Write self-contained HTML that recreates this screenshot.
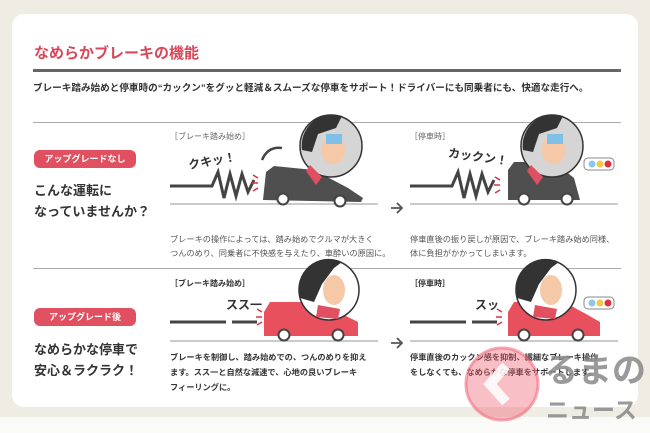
<!DOCTYPE html>
<html><head><meta charset="utf-8"><style>
body{margin:0;width:650px;height:433px;background:#efece4;position:relative;overflow:hidden;font-family:"Liberation Sans","Noto Sans CJK JP",sans-serif;color:#333}
.card{position:absolute;left:12px;top:14px;width:626px;height:393px;background:#fff;border-radius:12px}
.t{position:absolute;white-space:nowrap}
.badge{position:absolute;background:#e05060;color:#fff;font-weight:bold;font-size:9px;border-radius:6px;text-align:center}
.bottom{position:absolute;left:0;top:417px;width:650px;height:16px;background:#fafaf8}
</style></head><body>
<div class="card"></div>
<div class="bottom"></div>
<div class="t" style="left:34px;top:42px;font-size:15px;font-weight:bold;color:#d9485a">なめらかブレーキの機能</div>
<div style="position:absolute;left:33px;top:69px;width:588px;height:3px;background:#666"></div>
<div class="t" style="left:33px;top:80px;font-size:9.6px;font-weight:bold;color:#333">ブレーキ踏み始めと停車時の“カックン”をグッと軽減＆スムーズな停車をサポート！ドライバーにも同乗者にも、快適な走行へ。</div>
<div style="position:absolute;left:33px;top:122px;width:588px;height:1px;background:#aaa"></div>
<div style="position:absolute;left:33px;top:268px;width:588px;height:1px;background:#aaa"></div>

<div class="badge" style="left:34px;top:150px;width:102px;height:18px;line-height:18px">アップグレードなし</div>
<div class="t" style="left:34px;top:180px;font-size:13px;font-weight:bold;line-height:21px">こんな運転に<br>なっていませんか？</div>
<div class="badge" style="left:34px;top:308px;width:102px;height:18px;line-height:18px">アップグレード後</div>
<div class="t" style="left:34px;top:339px;font-size:13px;font-weight:bold;line-height:21px">なめらかな停車で<br>安心＆ラクラク！</div>

<div class="t" style="left:170px;top:131px;font-size:8px;color:#666">［ブレーキ踏み始め］</div>
<div class="t" style="left:410px;top:131px;font-size:8px;color:#666">［停車時］</div>
<div class="t" style="left:170px;top:278px;font-size:8px;color:#333;font-weight:bold">［ブレーキ踏み始め］</div>
<div class="t" style="left:410px;top:278px;font-size:8px;color:#333;font-weight:bold">［停車時］</div>

<div class="t" style="left:188px;top:152px;font-size:12px;font-weight:bold;transform:rotate(-10deg)">クキッ！</div>
<div class="t" style="left:448px;top:148px;font-size:12px;font-weight:bold;transform:rotate(8deg)">カックン！</div>
<div class="t" style="left:226px;top:296px;font-size:12px;font-weight:bold">スス一</div>
<div class="t" style="left:475px;top:296px;font-size:12px;font-weight:bold">スッ</div>

<div class="t" style="left:170px;top:233px;font-size:8.2px;color:#555;line-height:14px">ブレーキの操作によっては、踏み始めでクルマが大きく<br>つんのめり、同乗者に不快感を与えたり、車酔いの原因に。</div>
<div class="t" style="left:410px;top:233px;font-size:8.2px;color:#555;line-height:14px">停車直後の振り戻しが原因で、ブレーキ踏み始め同様、<br>体に負担がかかってしまいます。</div>
<div class="t" style="left:170px;top:350px;font-size:8.2px;color:#333;font-weight:bold;line-height:15px">ブレーキを制御し、踏み始めでの、つんのめりを抑え<br>ます。スス一と自然な減速で、心地の良いブレーキ<br>フィーリングに。</div>
<div class="t" style="left:410px;top:350px;font-size:8.2px;color:#333;font-weight:bold;line-height:15px">停車直後のカックン感を抑制、繊細なブレーキ操作<br>をしなくても、なめらかな停車をサポートします。</div>

<svg width="650" height="433" style="position:absolute;left:0;top:0">
<g stroke="#aaa" stroke-width="1.2"><line x1="170" y1="204" x2="378" y2="204"/><line x1="410" y1="204" x2="618" y2="204"/><line x1="170" y1="341" x2="378" y2="341"/><line x1="410" y1="341" x2="618" y2="341"/></g>
<g stroke="#555" stroke-width="1.8" fill="none"><path d="M391 208h11M397 203l5 5-5 5"/><path d="M391 343h11M397 338l5 5-5 5"/></g>
<g stroke="#444" stroke-width="3" fill="none">
<path d="M170 186h42l6-14 6 26 6-24 6 22 6-22 6 18 6-12"/>
<path d="M410 186h42l6-14 6 26 6-24 6 22 6-22 6 18 6-12"/>
<path d="M170 322h56M232 322h25M410 322h56M472 322h25"/></g>
<g stroke="#e03040" stroke-width="1.5"><path d="M258 178l-5-3M258 183h-6M258 188l-5 3"/><path d="M500 180l-5-3M500 185h-6M500 190l-5 3"/><path d="M262 312l-5-3M262 317h-6M262 322l-5 3"/><path d="M502 312l-5-3M502 317h-6M502 322l-5 3"/></g>
<path d="M262 160q6-14 20-12" stroke="#444" stroke-width="2.5" fill="none"/>
<g fill="#4f4f4f"><path d="M263 200l3-28 8-6 40 4 34 18 15 10-2 4z"/><path d="M508 200v-30l6-8h40l20 16 6 22z"/></g>
<g fill="#fff" stroke="#444" stroke-width="2"><circle cx="283" cy="199" r="5.5"/><circle cx="340" cy="201" r="5.5"/><circle cx="524" cy="199" r="5.5"/><circle cx="567" cy="199" r="5.5"/></g>
<g fill="#e8505e"><path d="M264 336v-24l6-10h50l22 12 16 8 0 14z"/><path d="M508 336v-24l6-10h50l22 12 14 8v14z"/></g>
<g fill="#fff" stroke="#444" stroke-width="2"><circle cx="284" cy="335" r="5.5"/><circle cx="338" cy="335" r="5.5"/><circle cx="524" cy="335" r="5.5"/><circle cx="578" cy="335" r="5.5"/></g>
<g stroke="#333" stroke-width="1.5"><circle cx="331" cy="146" r="31" fill="#d5d5d5"/><circle cx="552" cy="146" r="31" fill="#d5d5d5"/><circle cx="329" cy="290" r="30" fill="#fff"/><circle cx="546" cy="290" r="30" fill="#fff"/></g>
<g fill="#333"><path d="M302 150a31 31 0 0 1 40-34l-6 12-18 6-6 18z"/><path d="M523 150a31 31 0 0 1 40-34l-6 12-18 6-6 18z"/><path d="M300 298a30 30 0 0 1 42-36l-8 6-12 16-8 18z"/><path d="M517 298a30 30 0 0 1 42-36l-8 6-12 16-8 18z"/></g>
<g fill="#f5c9a8"><ellipse cx="333" cy="150" rx="12" ry="14"/><ellipse cx="554" cy="150" rx="12" ry="14"/><ellipse cx="334" cy="290" rx="11" ry="15"/><ellipse cx="551" cy="290" rx="11" ry="15"/></g>
<g fill="#7fc0e8"><rect x="326" y="134" width="16" height="10"/><rect x="547" y="134" width="16" height="10"/></g>
<g fill="#e05060"><path d="M310 165l12 12-6 8-10-14z"/><path d="M531 165l12 12-6 8-10-14z"/><path d="M318 305l22 4-2 10-22-2z"/><path d="M535 305l22 4-2 10-22-2z"/></g>
<g><rect x="584" y="158" width="30" height="12" rx="4" fill="#fff" stroke="#888"/><circle cx="592" cy="164" r="3.5" fill="#8cc8ec"/><circle cx="600" cy="164" r="3.5" fill="#f2c94c"/><circle cx="608" cy="164" r="3.5" fill="#e03040"/>
<rect x="584" y="297" width="30" height="12" rx="4" fill="#fff" stroke="#888"/><circle cx="592" cy="303" r="3.5" fill="#8cc8ec"/><circle cx="600" cy="303" r="3.5" fill="#f2c94c"/><circle cx="608" cy="303" r="3.5" fill="#e03040"/></g>
<circle cx="502" cy="384" r="36" fill="#f06070" fill-opacity=".4" stroke="#f07080" stroke-width="3" stroke-opacity=".6"/>
<path d="M506 366l-16 18 16 18" stroke="#fff" stroke-width="10" fill="none" stroke-opacity=".85"/>
<text x="544" y="382" font-size="34" font-weight="bold" fill="#888" fill-opacity=".85" font-family="Liberation Sans,Noto Sans CJK JP,sans-serif">るまの</text>
<text x="546" y="418" font-size="23" font-weight="bold" fill="#888" fill-opacity=".85" font-family="Liberation Sans,Noto Sans CJK JP,sans-serif">ニュース</text>
</svg>
</body></html>
